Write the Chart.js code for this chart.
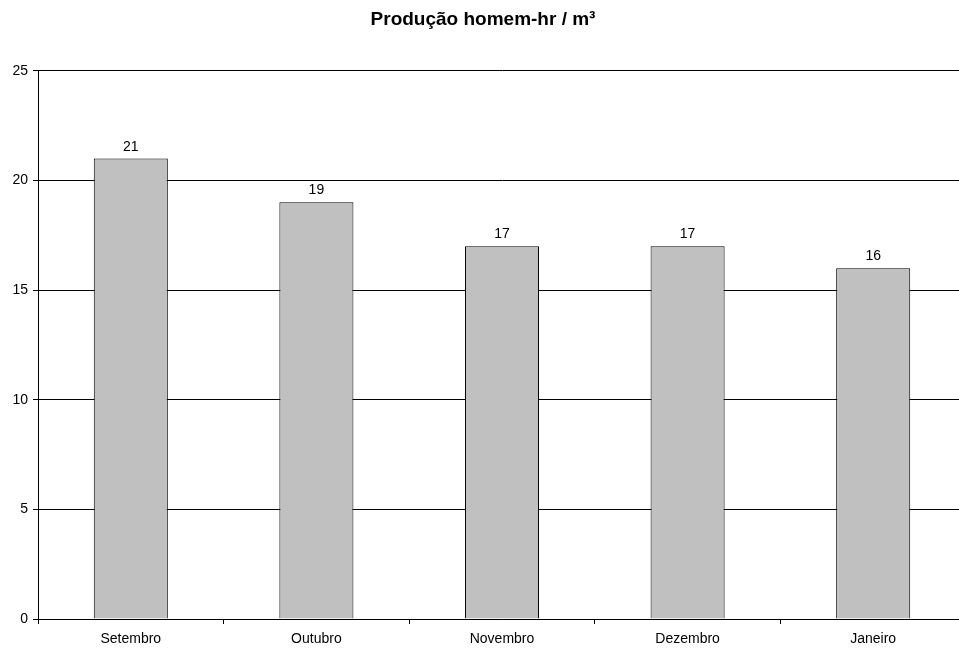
<!DOCTYPE html>
<html>
<head>
<meta charset="utf-8">
<script src="https://cdn.jsdelivr.net/npm/chart.js@4/dist/chart.umd.min.js"></script>
<style>
  html, body { margin: 0; padding: 0; background: #fff; overflow: hidden; }
  #wrap { width: 959px; height: 649px; overflow: hidden; }
</style>
</head>
<body>
<div id="wrap"><canvas id="c" width="966" height="649"></canvas></div>
<script>
const categories = ["Setembro", "Outubro", "Novembro", "Dezembro", "Janeiro"];
const values = [21, 19, 17, 17, 16];
const yTicks = [0, 5, 10, 15, 20, 25];
const chartTitle = "Produção homem-hr / m³";

const FONT = "'Liberation Sans', Arial, sans-serif";

const valueLabels = {
  id: 'valueLabels',
  afterDatasetsDraw(chart) {
    const ctx = chart.ctx;
    const meta = chart.getDatasetMeta(0);
    ctx.save();
    ctx.font = "14px " + FONT;
    ctx.fillStyle = "#000";
    ctx.textAlign = "center";
    ctx.textBaseline = "alphabetic";
    meta.data.forEach((bar, i) => {
      ctx.fillText(String(values[i]), bar.x, bar.y - 8);
    });
    ctx.restore();
  }
};

new Chart(document.getElementById('c'), {
  type: 'bar',
  data: {
    labels: categories,
    datasets: [{
      data: values,
      backgroundColor: '#C0C0C0',
      borderColor: '#000',
      borderWidth: 1,
      categoryPercentage: 1,
      barPercentage: 0.399
    }]
  },
  options: {
    responsive: false,
    animation: false,
    devicePixelRatio: 1,
    layout: { padding: { left: 0, right: 0, top: 0, bottom: 0 } },
    plugins: {
      legend: { display: false },
      tooltip: { enabled: false },
      title: {
        display: true,
        text: chartTitle,
        color: '#000',
        font: { family: FONT, size: 19, weight: 'bold' },
        padding: { top: 8, bottom: 40 }
      }
    },
    scales: {
      x: {
        offset: true,
        grid: { offset: true, drawOnChartArea: false, drawTicks: true, tickLength: 5, color: '#000' },
        border: { color: '#000', width: 1 },
        ticks: { color: '#000', font: { family: FONT, size: 14 }, padding: 7, maxRotation: 0 },
        afterFit(s) { s.height = 30; }
      },
      y: {
        min: 0,
        max: 25,
        afterBuildTicks(s) { s.ticks = yTicks.map(v => ({ value: v })); },
        grid: { color: '#000', tickLength: 5, drawTicks: true },
        border: { color: '#000', width: 1 },
        ticks: { color: '#000', font: { family: FONT, size: 14 }, padding: 5 },
        afterFit(s) { s.width = 38; }
      }
    }
  },
  plugins: [valueLabels]
});
</script>
</body>
</html>
